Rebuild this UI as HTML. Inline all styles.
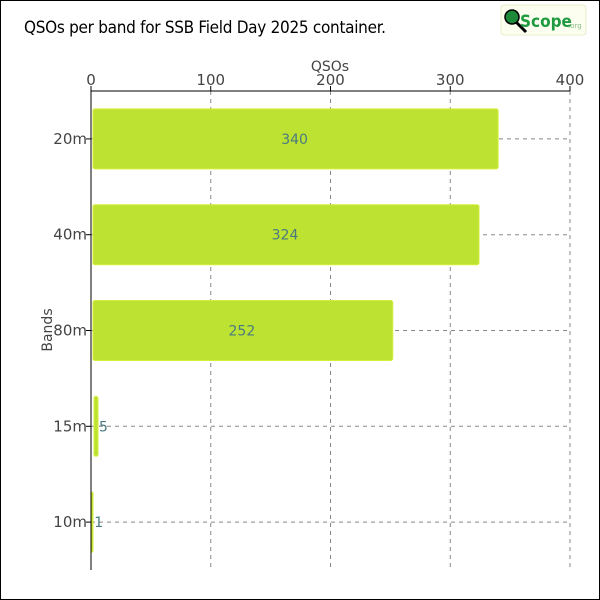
<!DOCTYPE html>
<html><head><meta charset="utf-8"><style>
body{margin:0;background:#fff}
svg{display:block;font-family:"DejaVu Sans","Liberation Sans",sans-serif}
</style></head><body>
<svg id="c" width="600" height="600">
<rect x="0.5" y="0.5" width="599" height="599" fill="#fff" stroke="#000"/>
<text x="24" y="33" font-size="17" fill="#000" font-family="'DejaVu Sans Condensed','DejaVu Sans',sans-serif" textLength="362">QSOs per band for SSB Field Day 2025 container.</text>
<g>
<rect x="501" y="5" width="85" height="30" rx="3" fill="#fcfff0" stroke="#e4eecc"/>
<line x1="516" y1="22" x2="526" y2="32" stroke="#000" stroke-width="3"/>
<circle cx="512" cy="17" r="7" fill="#1d8a3a" stroke="#000" stroke-width="1.5"/>
<text x="520" y="27" font-size="17" font-weight="bold" fill="#1f9a3f" font-family="'DejaVu Sans Condensed',sans-serif">Scope</text>
<text x="568" y="28" font-size="7" fill="#8ac08a">.org</text>
</g>
<g id="plot"></g>
</svg>
<script>
const categories=["20m","40m","80m","15m","10m"];
const values=[340,324,252,5,1];
const ticks=[0,100,200,300,400];
const ns="http://www.w3.org/2000/svg";
const X0=91,X1=570,Y0=91,Y1=570,maxV=400;
const xs=v=>X0+v/maxV*(X1-X0);
const band=(Y1-Y0)/categories.length;
const yc=i=>Y0+band*(i+0.5);
const g=document.getElementById('plot');
function mk(t,a,txt){const e=document.createElementNS(ns,t);for(const k in a)e.setAttribute(k,a[k]);if(txt!==undefined)e.textContent=txt;g.appendChild(e);return e;}
ticks.forEach(t=>{
 const l=mk('line',{x1:xs(t),x2:xs(t),y1:Y0,y2:Y1,stroke:'#888','stroke-dasharray':'4,4'});
 
 
 const k=mk('line',{x1:xs(t),x2:xs(t),y1:Y0-5,y2:Y0,stroke:'#000'});
 
 
 const tx=mk('text',{x:xs(t),y:Y0-6,'text-anchor':'middle','font-size':15,fill:'#444'},t);
 
 
});
categories.forEach((c,i)=>{
 const l=mk('line',{x1:X0,x2:X1,y1:yc(i),y2:yc(i),stroke:'#888','stroke-dasharray':'4,4'});
 
 
 const w=Math.max(xs(values[i])-X0-2,2);
 const b=mk('rect',{x:X0+(values[i]<3?0:2)+(values[i]>=3&&values[i]<20?1:0),y:yc(i)-30,width:w,height:60,rx:2,fill:'#bde232',stroke:'#d4ef3a'});
 
 
 const vx=values[i]>50?X0+(xs(values[i])-X0)/2:xs(values[i])+2;
 const vt=mk('text',{x:vx,y:yc(i)+5,'text-anchor':values[i]>50?'middle':'start','font-size':14,fill:'#4a7a80'},values[i]);
 
 
 const k=mk('line',{x1:X0-5,x2:X0,y1:yc(i),y2:yc(i),stroke:'#000'});
 
 
 const ct=mk('text',{x:X0-4,y:yc(i)+5,'text-anchor':'end','font-size':15,fill:'#444'},c);
 
 
});
const ax=mk('line',{x1:X0,x2:X1,y1:Y0,y2:Y0,stroke:'#000'});


const ay=mk('line',{x1:X0,x2:X0,y1:Y0,y2:Y1,stroke:'#000'});


const xt=mk('text',{x:330,y:71,'text-anchor':'middle','font-size':14,fill:'#444'},'QSOs');


const yt=mk('text',{x:52,y:330,'text-anchor':'middle','font-size':14,fill:'#444',transform:'rotate(-90 52 330)'},'Bands');


</script>
</body></html>
